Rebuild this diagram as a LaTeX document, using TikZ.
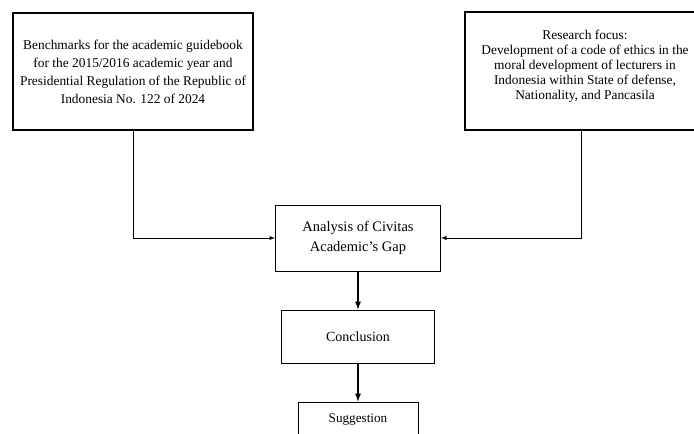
\documentclass[tikz,border=0pt]{standalone}
\usepackage{fontspec}
\setmainfont{Liberation Serif}
\usepackage{tikz}
\usetikzlibrary{arrows}
\tikzset{
	thickbox/.style={draw, line width=2.6pt, align=center, inner sep=0pt},
	thinbox/.style={draw, line width=1pt, align=center, inner sep=0pt},
	link/.style={line width=0.9pt, -latex},
	boldlink/.style={line width=1.7pt, -latex}
}

\begin{document}
\begin{tikzpicture}[x=1pt, y=-1pt]
		
		\useasboundingbox (0,0) rectangle (694,434);
		\clip (0,0) rectangle (694,434);
		
			% top boxes
			\node [thickbox, minimum width=240pt, minimum height=117pt, font=\fontsize{13.4}{18}\selectfont] (bench) at (133,71.5)
				{Benchmarks for the academic guidebook\\for the 2015/2016 academic year and\\Presidential Regulation of the Republic of\\Indonesia No. 122 of 2024};
			\node [thickbox, minimum width=240pt, minimum height=118pt, font=\fontsize{13.4}{15}\selectfont] (focus) at (585,71)
				{Research focus:\\Development of a code of ethics in the\\moral development of lecturers in\\Indonesia within State of defense,\\Nationality, and Pancasila\rule[-13pt]{0pt}{0pt}};
			
			% middle column
			\node [thinbox, minimum width=165pt, minimum height=66pt, font=\fontsize{14.5}{20}\selectfont] (gap) at (358,238)
				{Analysis of Civitas\\Academic's Gap};
			\node [thinbox, minimum width=153pt, minimum height=53pt, font=\fontsize{14}{16}\selectfont] (concl) at (358,336.5) {Conclusion};
			\node [thinbox, minimum width=120pt, minimum height=50pt, font=\fontsize{13.2}{16}\selectfont, text depth=0pt] (sugg) at (358,427)
				{\raisebox{17pt}{Suggestion}};
			
			% connectors
			\draw [link] (bench.south) |- (gap.west);
			\draw [link] ([xshift=-4pt]focus.south) |- (gap.east);
			\draw [boldlink] (gap.south) -- (concl.north);
			\draw [boldlink] (concl.south) -- (sugg.north);
			
		\end{tikzpicture}
\end{document}
